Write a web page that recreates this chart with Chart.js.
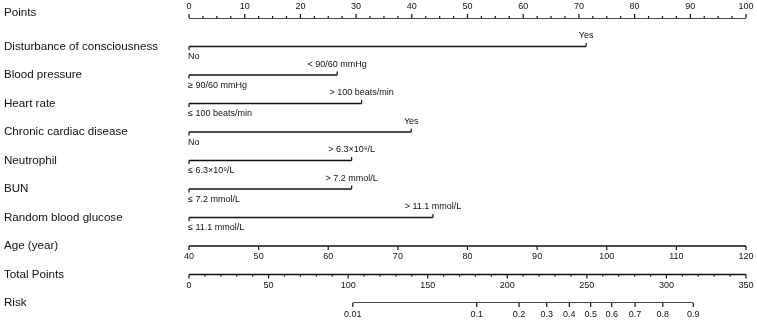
<!DOCTYPE html>
<html lang="en">
<head>
    <meta charset="UTF-8">
    <title>Nomogram</title>
    <script src="https://cdn.jsdelivr.net/npm/chart.js"></script>
    <style>
        body { margin: 0; background: #fff; }
        canvas { display: block; }
    </style>
</head>
<body>
    <canvas id="myChart" width="757" height="321"></canvas>

    <script>
        // row titles, top to bottom
        const rowLabels = ['Points', 'Disturbance of consciousness', 'Blood pressure', 'Heart rate',
            'Chronic cardiac disease', 'Neutrophil', 'BUN', 'Random blood glucose',
            'Age (year)', 'Total Points', 'Risk'];

        // two-level factors: reference level (0 points) and the other level
        const lowLabels = ['No', '≥ 90/60 mmHg', '≤ 100 beats/min', 'No', '≤ 6.3×10⁹/L', '≤ 7.2 mmol/L', '≤ 11.1 mmol/L'];
        const highLabels = ['Yes', '< 90/60 mmHg', '> 100 beats/min', 'Yes', '> 6.3×10⁹/L', '> 7.2 mmol/L', '> 11.1 mmol/L'];
        const highPoints = [71.3, 26.6, 31.0, 39.9, 29.2, 29.2, 43.8];

        const pointsTicks = [0, 10, 20, 30, 40, 50, 60, 70, 80, 90, 100];
        const ageTicks = [40, 50, 60, 70, 80, 90, 100, 110, 120];
        const totalTicks = [0, 50, 100, 150, 200, 250, 300, 350];
        const riskLabels = ['0.01', '0.1', '0.2', '0.3', '0.4', '0.5', '0.6', '0.7', '0.8', '0.9'];
        const riskAtTotal = [102.9, 180.8, 207.4, 224.8, 239.0, 252.4, 265.6, 280.3, 297.7, 316.9];

        const ink = '#111';
        const fontFam = '"Liberation Sans", Arial, Helvetica, sans-serif';

        // build the horizontal line segments
        const seg = (axis, a, b, row) => ({
            xAxisID: axis,
            data: [{x: a, y: row}, {x: b, y: row}],
            borderColor: ink,
            borderWidth: 1.3,
            pointRadius: 0,
            fill: false
        });
        const datasets = [seg('x', 0, 100, 0)];
        highPoints.forEach((p, i) => datasets.push(seg('x', 0, p, i + 1)));
        datasets.push(seg('xAge', ageTicks[0], ageTicks[ageTicks.length - 1], 8));
        datasets.push(seg('xTotal', 0, 350, 9));
        datasets.push(seg('xTotal', riskAtTotal[0], riskAtTotal[riskAtTotal.length - 1], 10));

        // ticks and text
        const nomoPlugin = {
            id: 'nomo',
            afterDatasetsDraw(chart) {
                const ctx = chart.ctx;
                const y = chart.scales.y;
                const sx = chart.scales.x, sAge = chart.scales.xAge, sTot = chart.scales.xTotal;
                ctx.save();
                ctx.strokeStyle = ink;
                ctx.fillStyle = ink;
                ctx.lineWidth = 1.2;

                const tick = (px, py, len) => {
                    ctx.beginPath();
                    ctx.moveTo(px, py);
                    ctx.lineTo(px, py + len);
                    ctx.stroke();
                };
                const txt = (s, px, py, align) => {
                    ctx.textAlign = align || 'center';
                    ctx.fillText(s, px, py);
                };

                // row titles
                ctx.font = '11.6px ' + fontFam;
                ctx.textBaseline = 'middle';
                rowLabels.forEach((s, i) => txt(s, 4, y.getPixelForValue(i) + (i === 0 ? -5 : 0), 'left'));

                ctx.font = '9px ' + fontFam;

                // Points axis, labels above
                let py = y.getPixelForValue(0);
                for (let v = 0; v <= 100; v += 2.5) {
                    const major = v % 10 === 0;
                    tick(sx.getPixelForValue(v), py, major ? -4 : -2);
                }
                pointsTicks.forEach(v => txt(String(v), sx.getPixelForValue(v), py - 11));

                // factor rows
                highPoints.forEach((p, i) => {
                    const ry = y.getPixelForValue(i + 1);
                    tick(sx.getPixelForValue(0), ry, 3.5);
                    tick(sx.getPixelForValue(p), ry, -3.5);
                    txt(lowLabels[i], sx.getPixelForValue(0) - 1, ry + 10.5, 'left');
                    txt(highLabels[i], sx.getPixelForValue(p), ry - 10.5);
                });

                // Age
                py = y.getPixelForValue(8);
                ageTicks.forEach(v => {
                    tick(sAge.getPixelForValue(v), py, 4);
                    txt(String(v), sAge.getPixelForValue(v), py + 10.5);
                });

                // Total Points
                py = y.getPixelForValue(9);
                for (let v = 0; v <= 350; v += 10) {
                    tick(sTot.getPixelForValue(v), py, v % 50 === 0 ? 4 : 2);
                }
                totalTicks.forEach(v => txt(String(v), sTot.getPixelForValue(v), py + 11));

                // Risk
                py = y.getPixelForValue(10);
                riskAtTotal.forEach((v, i) => {
                    tick(sTot.getPixelForValue(v), py, 4);
                    txt(riskLabels[i], sTot.getPixelForValue(v), py + 12);
                });

                ctx.restore();
            }
        };

        new Chart(document.getElementById('myChart').getContext('2d'), {
            type: 'line',
            data: { datasets: datasets },
            options: {
                responsive: false,
                animation: false,
                events: [],
                layout: { padding: { left: 189, right: 11, top: 18, bottom: 18 } },
                plugins: { legend: { display: false }, tooltip: { enabled: false } },
                scales: {
                    x: { type: 'linear', min: 0, max: 100, display: false },
                    xAge: { type: 'linear', min: 40, max: 120, display: false },
                    xTotal: { type: 'linear', min: 0, max: 350, display: false },
                    y: { type: 'linear', min: 0, max: 10, reverse: true, display: false }
                }
            },
            plugins: [nomoPlugin]
        });
    </script>
</body>
</html>
